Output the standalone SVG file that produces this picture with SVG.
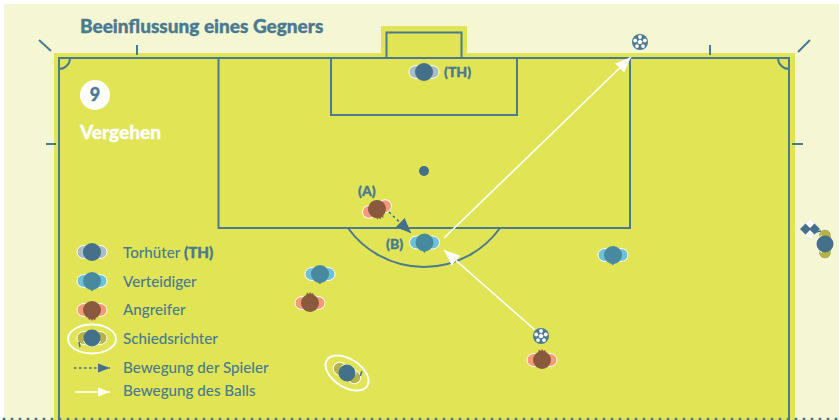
<svg xmlns="http://www.w3.org/2000/svg" width="839" height="420" viewBox="0 0 839 420">
<style>
.ln{fill:none;stroke:#4a7a90;stroke-width:2}
.t{font-family:"Lato","Liberation Sans",sans-serif;fill:#4a7a90;font-size:15.2px;font-weight:500}
.b{font-family:"Lato","Liberation Sans",sans-serif;font-weight:900;fill:#4a7a90;stroke:#4a7a90;stroke-width:.35}
.v{font-family:"Lato","Liberation Sans",sans-serif;font-weight:900;fill:#fff;stroke:#fff;stroke-width:.35}
.w{fill:none;stroke:#fff;stroke-width:1.6}
</style>
<defs>
<marker id="wa" markerUnits="userSpaceOnUse" markerWidth="17" markerHeight="14" refX="16" refY="7" orient="auto"><path d="M0 0.500L16 7L0 13.500Z" fill="#fff"/></marker>
<marker id="wb" markerUnits="userSpaceOnUse" markerWidth="13" markerHeight="10" refX="12" refY="5" orient="auto"><path d="M0 0.500L12 5L0 9.500Z" fill="#fff"/></marker>
<marker id="da" markerUnits="userSpaceOnUse" markerWidth="16" markerHeight="14" refX="15" refY="7" orient="auto"><path d="M0 0.500L15 7L0 13.500Z" fill="#44708a"/></marker>
<marker id="db" markerUnits="userSpaceOnUse" markerWidth="13" markerHeight="10" refX="12" refY="5" orient="auto"><path d="M0 0.500L12 5L0 9.500Z" fill="#44708a"/></marker>
<g id="ball"><circle r="8" fill="#4a7a90"/><path d="M0 -2.600L2.500 -.8L1.500 2.100H-1.500L-2.500 -.8Z" fill="#fff"/><g fill="#fff"><circle cx="0" cy="-5" r="1.900"/><circle cx="4.800" cy="-1.500" r="1.900"/><circle cx="3" cy="4.100" r="1.900"/><circle cx="-3" cy="4.100" r="1.900"/><circle cx="-4.800" cy="-1.500" r="1.900"/></g></g>
<g id="pl-th"><ellipse cx="-8" cy="0" rx="7" ry="6.500" fill="#a9bcc2" stroke="#fff"/><ellipse cx="8" cy="0" rx="7" ry="6.500" fill="#a9bcc2" stroke="#fff"/><circle r="9" fill="#44708a"/></g>
<g id="pl-v"><ellipse cx="-8" cy="0" rx="7" ry="6.500" fill="#6ec1d6" stroke="#fff"/><ellipse cx="8" cy="0" rx="7" ry="6.500" fill="#6ec1d6" stroke="#fff"/><circle r="9" fill="#47899f"/><path d="M-3 7L0 10.500L1 9L3 7Z" fill="#47899f"/></g>
<g id="pl-a"><ellipse cx="-8" cy="0" rx="7" ry="6.500" fill="#f79a78" stroke="#fff"/><ellipse cx="8" cy="0" rx="7" ry="6.500" fill="#f79a78" stroke="#fff"/><circle r="9" fill="#8a5a3e"/><path d="M-4 -7L-3 -10.500L-1 -9L0 -11L1.500 -9L3 -10L4 -7Z" fill="#8a5a3e"/></g>
<g id="pl-s"><ellipse cx="-8" cy="0" rx="7" ry="6.500" fill="#b6b34a" stroke="#fff"/><ellipse cx="8" cy="0" rx="7" ry="6.500" fill="#b6b34a" stroke="#fff"/><path d="M-9 3A10 10 0 0 0 9 3Z" fill="#fff"/><circle r="8.500" fill="#44708a"/><path d="M-13 4L-12 9" stroke="#44708a" stroke-width="1.500" fill="none"/></g>
</defs>
<rect width="839" height="420" fill="#fff"/>
<rect x="4" y="4" width="835" height="416" fill="#f5f6d3"/>
<g id="field">
<path d="M54 420V53H381V26H467V53H795V420Z" fill="#e0e455"/>
<path class="ln" d="M59 420V58H789V420"/>
<path class="ln" d="M386.500 58V32.500H461.500V58"/>
<path class="ln" d="M218.500 58V228H630V58"/>
<path class="ln" d="M331 58V115H517V58"/>
<path class="ln" d="M348 228A93.500 93.500 0 0 0 500 228"/>
<circle cx="424" cy="171" r="5" fill="#44708a"/>
<path class="ln" d="M59 69A11 11 0 0 0 70 58M778 58A11 11 0 0 0 789 69"/>
<path class="ln" d="M51 51L39 40M137 55V45M46 144H56M798 52L810 40M710 55V45M792 144H803"/>
<path d="M4 419H839" stroke="#4a7a90" stroke-width="3" stroke-linecap="round" stroke-dasharray="0 8"/>
</g>
<g id="connectors">
<path class="w" d="M444 238L631 57" marker-end="url(#wa)"/>
<path class="w" d="M535 330L444 250" marker-end="url(#wa)"/>
<path d="M389 212L411 233" fill="none" stroke="#44708a" stroke-width="1.600" stroke-dasharray="2.500 3" marker-end="url(#da)"/>
<path d="M74 368H110" fill="none" stroke="#44708a" stroke-width="1.300" stroke-dasharray="2.500 2.500" marker-end="url(#db)"/>
<path class="w" d="M75 392H110" marker-end="url(#wb)"/>
</g>
<g id="title"><text class="b" x="80" y="33" font-size="19">Beeinflussung eines Gegners</text></g>
<g id="badge"><circle cx="95" cy="95" r="15" fill="#fff"/><text class="b" x="95" y="101" font-size="18" text-anchor="middle">9</text></g>
<g id="phase"><text class="v" x="80" y="139" font-size="19">Vergehen</text></g>
<g id="goalkeeper"><use href="#pl-th" x="424" y="72"/><text class="b" x="444" y="77" font-size="14">(TH)</text></g>
<g id="attacker-a"><use href="#pl-a" transform="translate(377 209) rotate(160)"/><text class="b" x="358" y="196" font-size="14">(A)</text></g>
<g id="defender-b"><use href="#pl-v" x="424.500" y="242.500"/><text class="b" x="386" y="249" font-size="14">(B)</text></g>
<g id="defender-2"><use href="#pl-v" x="320" y="274"/></g>
<g id="defender-3"><use href="#pl-v" x="613" y="255"/></g>
<g id="attacker-2"><use href="#pl-a" x="310" y="303"/></g>
<g id="attacker-3"><use href="#pl-a" x="542" y="360"/></g>
<g id="ball-1"><use href="#ball" x="640" y="42"/></g>
<g id="ball-2"><use href="#ball" x="541" y="336"/></g>
<g id="referee"><ellipse cx="347" cy="373" rx="24" ry="14" transform="rotate(33 347 373)" fill="none" stroke="#fff" stroke-width="2"/><use href="#pl-s" transform="translate(347 373) rotate(210)"/></g>
<g id="assistant"><path d="M799.500 229L810 218.500L820.500 229L810 239.500Z" fill="#fff" stroke="#dfe3c4" stroke-width=".6"/><path d="M800 229L805.500 223.500L811 229L805.500 234.500ZM809 229L814.500 223.500L820 229L814.500 234.500Z" fill="#44708a"/><use href="#pl-s" transform="translate(825 244) rotate(90)"/></g>
<g id="legend">
<use href="#pl-th" x="92" y="252"/><text class="t" x="123" y="258">Torhüter <tspan class="b">(TH)</tspan></text>
<use href="#pl-v" x="92" y="281"/><text class="t" x="123" y="287">Verteidiger</text>
<use href="#pl-a" transform="translate(92 310) rotate(180)"/><text class="t" x="123" y="315">Angreifer</text>
<ellipse cx="92" cy="339" rx="24" ry="14.500" fill="none" stroke="#fff" stroke-width="2"/><use href="#pl-s" x="92" y="338"/><text class="t" x="123" y="344">Schiedsrichter</text>
<text class="t" x="123" y="373">Bewegung der Spieler</text>
<text class="t" x="123" y="396">Bewegung des Balls</text>
</g>
</svg>
